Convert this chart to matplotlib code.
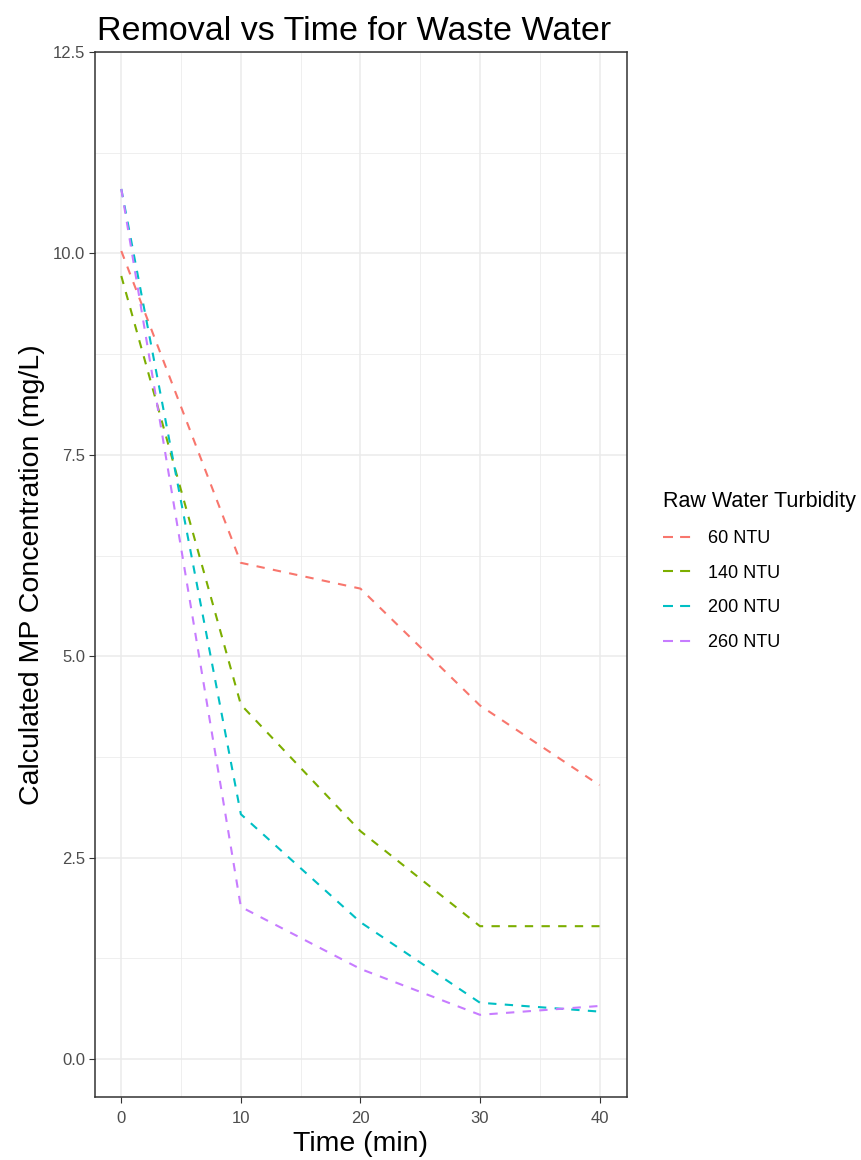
import numpy as np
import matplotlib.pyplot as plt
from matplotlib.lines import Line2D
from matplotlib.ticker import MultipleLocator

plt.rcParams['font.family'] = ['Liberation Sans', 'DejaVu Sans']

# data
time_min = [0, 10, 20, 30, 40]
ntu_labels = ['60 NTU', '140 NTU', '200 NTU', '260 NTU']
conc_60 = [10.03, 6.16, 5.84, 4.39, 3.40]
conc_140 = [9.72, 4.40, 2.83, 1.65, 1.65]
conc_200 = [10.80, 3.04, 1.70, 0.70, 0.59]
conc_260 = [10.80, 1.89, 1.12, 0.55, 0.66]
colors = ['#F8766D', '#7CAE00', '#00BFC4', '#C77CFF']

fig = plt.figure(figsize=(8.62, 11.6), dpi=100)
ax = fig.add_axes([95 / 862, 1 - 1097 / 1160, (627 - 95) / 862, (1097 - 52) / 1160])

series = [conc_60, conc_140, conc_200, conc_260]
for vals, lab, c in zip(series, ntu_labels, colors):
    ax.plot(time_min, vals, color=c, linewidth=1.5, linestyle=(0, (4, 4)), label=lab, zorder=3)

ax.set_xlim(-2.2, 42.3)
ax.set_ylim(-0.47, 12.5)
ax.xaxis.set_major_locator(MultipleLocator(10))
ax.xaxis.set_minor_locator(MultipleLocator(5))
ax.yaxis.set_minor_locator(MultipleLocator(1.25))
ax.set_yticks([0, 2.5, 5, 7.5, 10, 12.5])
ax.set_yticklabels(['0.0', '2.5', '5.0', '7.5', '10.0', '12.5'])
ax.grid(which='major', color='#EBEBEB', linewidth=1.1, zorder=0)
ax.grid(which='minor', color='#EBEBEB', linewidth=0.55, zorder=0)
ax.set_axisbelow(True)
for s in ax.spines.values():
    s.set_color('#333333')
    s.set_linewidth(1.1)
ax.tick_params(which='major', length=4, width=0.8, color='#333333', labelcolor='#4D4D4D',
               labelsize=12)
ax.tick_params(axis='x', which='major', pad=6)
ax.tick_params(axis='y', which='major', pad=3)
ax.tick_params(which='minor', length=0)

ax.set_xlabel('Time (min)', fontsize=20.5, labelpad=4)
ax.set_ylabel('Calculated MP Concentration (mg/L)', fontsize=20.5, labelpad=6)
ax.set_title('Removal vs Time for Waste Water', fontsize=24.5, loc='left', pad=9, x=0.003)

# legend keys with ggplot-like short dashes
proxies = [Line2D([], [], color=c, linewidth=1.5, linestyle=(0, (4.8, 3.4))) for c in colors]
fig.legend(handles=proxies, labels=ntu_labels, title='Raw Water Turbidity',
           loc='upper left', bbox_to_anchor=(647 / 862, 1 - 475 / 1160),
           frameon=False, fontsize=13, title_fontsize=15.5, handlelength=1.55,
           labelspacing=0.98, handletextpad=0.95, alignment='left')

fig.savefig('out.png', dpi=100)
